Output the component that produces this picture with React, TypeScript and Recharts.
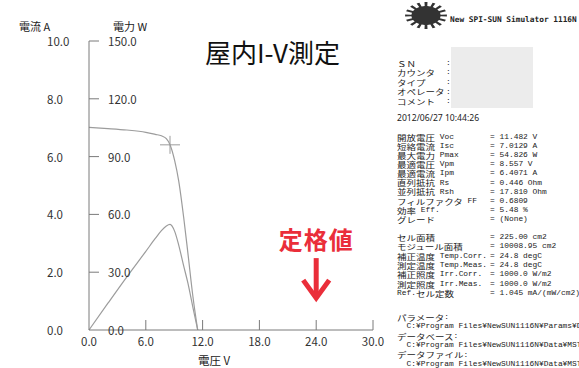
import React from 'react';
import { LineChart, Line, XAxis, YAxis, ReferenceDot } from 'recharts';

// I-V sweep (V, A) and the power curve (W)
const voltage = [0, 2, 4, 6, 7, 7.65, 8.17, 8.557, 9.05, 9.47, 10.0, 10.45, 10.98, 11.482];
const current = [7.01, 6.97, 6.92, 6.84, 6.77, 6.72, 6.62, 6.41, 5.86, 5.17, 3.9, 2.65, 1.15, 0];
const power = [0, 13.9, 27.6, 40.8, 47.5, 51.6, 54.0, 54.8, 51.2, 44.2, 33.3, 24.3, 11.6, 0];

const voltageTicks = [0, 6, 12, 18, 24, 30];
const currentTicks = [0, 2, 4, 6, 8, 10];
const powerTicks = [0, 30, 60, 90, 120, 150];

const pmaxPoint = { v: 8.557, i: 6.4071 };
const ratedVoltage = 24;

const infoLabels = ['ＳＮ', 'カウンタ', 'タイプ', 'オペレータ', 'コメント'];
const measureDate = '2012/06/27 10:44:26';
const paramLabels = [
  '開放電圧 Voc', '短絡電流 Isc', '最大電力 Pmax', '最適電圧 Vpm', '最適電流 Ipm',
  '直列抵抗 Rs', '並列抵抗 Rsh', 'フィルファクタ FF', '効率 Eff.', 'グレード',
];
const paramValues = [
  '= 11.482 V', '= 7.0129 A', '= 54.826 W', '= 8.557 V', '= 6.4071 A',
  '= 0.446 Ohm', '= 17.810 Ohm', '= 0.6809', '= 5.48 %', '= (None)',
];
const condLabels = [
  'セル面積', 'モジュール面積', '補正温度 Temp.Corr.', '測定温度 Temp.Meas.',
  '補正照度 Irr.Corr.', '測定照度 Irr.Meas.', 'Ref.セル定数',
];
const condValues = [
  '= 225.00 cm2', '= 10008.95 cm2', '= 24.8 degC', '= 24.8 degC',
  '= 1000.0 W/m2', '= 1000.0 W/m2', '= 1.045 mA/(mW/cm2)',
];
const fileLines = [
  'パラメータ:', '  C:¥Program Files¥NewSUN1116N¥Params¥D',
  'データベース:', '  C:¥Program Files¥NewSUN1116N¥Data¥MST',
  'データファイル:', '  C:¥Program Files¥NewSUN1116N¥Data¥MST',
];

const tableData = voltage.map((v, idx) => ({ v, i: current[idx], p: power[idx] }));

const AXIS = '#7a7a7a';
const CURVE = '#9c9c9c';
const LABEL = '#333';
const RED = '#ea2e3a';
const tickFont = "'Noto Sans CJK JP', 'Noto Sans', sans-serif";

const isWide = (ch: string) => /[\u3000-\u30ff\u4e00-\u9fff\uff00-\uffef]/.test(ch);

// split into full-width / half-width runs so it looks like a fixed-pitch gothic,
// squashed vertically like the printout
function MixedText({ x, y, text }: { x: number; y: number; text: string }) {
  const runs: { s: string; wide: boolean }[] = [];
  for (const ch of text) {
    const w = isWide(ch);
    if (runs.length && runs[runs.length - 1].wide === w) runs[runs.length - 1].s += ch;
    else runs.push({ s: ch, wide: w });
  }
  return (
    <g transform={`translate(${x},${y}) scale(1,0.8)`}>
      <text x={0} y={0} dominantBaseline="central" fill="#222" style={{ whiteSpace: 'pre' }}>
        {runs.map((r, k) =>
          r.wide ? (
            <tspan key={k} fontFamily="'Noto Sans CJK JP'" fontSize={9.5}>{r.s}</tspan>
          ) : (
            <tspan key={k} fontFamily="'Liberation Mono'" fontSize={7.9}>{r.s}</tspan>
          )
        )}
      </text>
    </g>
  );
}

function sunPoints(cx: number, cy: number, rx: number, ry: number, rays: number) {
  const pts: string[] = [];
  for (let k = 0; k < rays; k++) {
    const a = (k / rays) * Math.PI * 2;
    const half = (Math.PI / rays) * 0.45;
    [[a - half, 1], [a - half * 0.8, 0.0], [a + half * 0.8, 0.0], [a + half, 1]].forEach(([ang, o]) => {
      const r = o === 1 ? 0.7 : 1;
      pts.push(`${(cx + Math.cos(ang) * rx * r).toFixed(1)},${(cy + Math.sin(ang) * ry * r).toFixed(1)}`);
    });
  }
  return pts.join(' ');
}

const XTick = (props: any) => {
  const { x, y, payload } = props;
  return (
    <g>
      {payload.value !== 0 && <line x1={x} x2={x} y1={y - 10} y2={y} stroke={AXIS} />}
      <text x={x} y={y + 11} textAnchor="middle" dominantBaseline="central" fontSize={11.5} fontFamily={tickFont} fill={LABEL}>
        {payload.value.toFixed(1)}
      </text>
    </g>
  );
};

const YTick = (props: any) => {
  const { x, y, payload } = props;
  const idx = currentTicks.indexOf(payload.value);
  return (
    <g>
      {payload.value !== 0 && <line x1={x} x2={x + 10} y1={y} y2={y} stroke={AXIS} />}
      <text x={x - 42} y={y} dominantBaseline="central" fontSize={11.5} fontFamily={tickFont} fill={LABEL}>
        {payload.value.toFixed(1)}
      </text>
      {idx >= 0 && (
        <text x={x + 19} y={y} dominantBaseline="central" fontSize={11.5} fontFamily={tickFont} fill={LABEL}>
          {powerTicks[idx].toFixed(1)}
        </text>
      )}
    </g>
  );
};

const CrossMark = (props: any) => {
  const { cx, cy } = props;
  return (
    <g>
      <line x1={cx - 10} x2={cx + 10} y1={cy} y2={cy} stroke={CURVE} />
      <line x1={cx} x2={cx} y1={cy - 9} y2={cy + 9} stroke={CURVE} />
    </g>
  );
};

const RatedArrow = (props: any) => {
  const { cx, cy } = props;
  return (
    <g>
      <text x={cx} y={cy - 63} textAnchor="middle" dominantBaseline="central" fontSize={24} fontWeight="bold"
        fontFamily="'Noto Sans CJK JP'" fill={RED} letterSpacing={1}>
        定格値
      </text>
      <line x1={cx} x2={cx} y1={cy - 43} y2={cy - 3} stroke={RED} strokeWidth={5} />
      <polyline points={`${cx - 13},${cy - 21} ${cx},${cy - 3} ${cx + 13},${cy - 21}`} fill="none" stroke={RED}
        strokeWidth={5} strokeLinejoin="miter" />
    </g>
  );
};

export default function App() {
  return (
    <div style={{ position: 'absolute', left: 0, top: 0, width: 579, height: 368, background: '#fff', fontFamily: tickFont }}>
      <LineChart width={579} height={368} data={tableData} margin={{ top: 41, right: 206, left: 29, bottom: 0 }}>
        <XAxis dataKey="v" type="number" domain={[0, 30]} ticks={voltageTicks} height={38} axisLine={{ stroke: AXIS }}
          tickLine={false} tickSize={0} tickMargin={0} tick={<XTick />} interval={0} />
        <YAxis yAxisId="i" type="number" domain={[0, 10]} ticks={currentTicks} width={60} axisLine={{ stroke: AXIS }}
          tickLine={false} tickSize={0} tickMargin={0} tick={<YTick />} interval={0} />
        <YAxis yAxisId="p" type="number" domain={[0, 150]} ticks={powerTicks} hide />
        <Line yAxisId="i" dataKey="i" type="monotone" stroke={CURVE} strokeWidth={1.2} dot={false} isAnimationActive={false} />
        <Line yAxisId="p" dataKey="p" type="monotone" stroke={CURVE} strokeWidth={1.2} dot={false} isAnimationActive={false} />
        <ReferenceDot yAxisId="i" x={pmaxPoint.v} y={pmaxPoint.i} shape={<CrossMark />} />
        <ReferenceDot yAxisId="i" x={ratedVoltage} y={1.0} shape={<RatedArrow />} />
      </LineChart>

      <svg width={579} height={368} style={{ position: 'absolute', left: 0, top: 0, pointerEvents: 'none' }}>
        <text x={19} y={26} dominantBaseline="central" fontSize={11} fontFamily={tickFont} fill="#222">電流 A</text>
        <text x={113} y={26} dominantBaseline="central" fontSize={11} fontFamily={tickFont} fill="#222">電力 W</text>
        <text x={198} y={360} dominantBaseline="central" fontSize={11.5} fontFamily={tickFont} fill="#222">電圧 V</text>
        <text x={205} y={51} dominantBaseline="central" fontSize={26} fontFamily="'Noto Sans CJK JP'" fill="#111">屋内I-V測定</text>

        {/* right info panel */}
        <polygon points={sunPoints(426, 15.5, 21, 13.5, 16)} fill="#333" />
        <text x={450} y={19} dominantBaseline="central" fontSize={7.8} fontFamily="'DejaVu Sans Mono'" fontWeight="bold" fill="#222">
          New SPI-SUN Simulator 1116N
        </text>
        <rect x={451} y={47} width={82} height={61} fill="#ececec" />
        {infoLabels.map((t, k) => (
          <g key={t}>
            <MixedText x={397} y={63 + k * 9.6} text={t} />
            <MixedText x={446} y={63 + k * 9.6} text=":" />
          </g>
        ))}
        <text x={397} y={118} dominantBaseline="central" fontSize={8.6} fontFamily="'Noto Sans'" fill="#222">{measureDate}</text>
        {paramLabels.map((t, k) => (
          <g key={t}>
            <MixedText x={397} y={137 + k * 9.15} text={t} />
            <MixedText x={490} y={137 + k * 9.15} text={paramValues[k]} />
          </g>
        ))}
        {condLabels.map((t, k) => (
          <g key={t}>
            <MixedText x={397} y={237.3 + k * 9.35} text={t} />
            <MixedText x={490} y={237.3 + k * 9.35} text={condValues[k]} />
          </g>
        ))}
        {fileLines.map((t, k) => (
          <MixedText key={k} x={397} y={317.3 + k * 9.4} text={t} />
        ))}
      </svg>
    </div>
  );
}
